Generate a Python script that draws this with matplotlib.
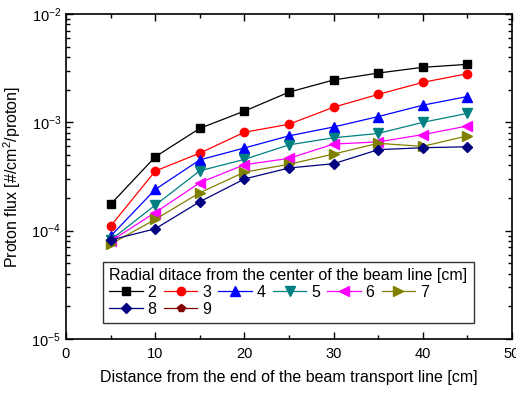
import numpy as np
import matplotlib
matplotlib.use("Agg")
import matplotlib.pyplot as plt
from matplotlib.ticker import LogLocator, MultipleLocator, NullFormatter

plt.rcParams['font.family'] = ['Liberation Sans', 'DejaVu Sans']
plt.rcParams['mathtext.fontset'] = 'custom'
plt.rcParams['mathtext.rm'] = 'Liberation Sans'

# Distance from the end of the beam transport line [cm]
distance = [5, 10, 15, 20, 25, 30, 35, 40, 45]

# Radial distance labels [cm]
radii = ["2", "3", "4", "5", "6", "7", "8", "9"]

flux_r2 = [1.75e-4, 4.8e-4, 8.8e-4, 1.27e-3, 1.9e-3, 2.46e-3, 2.85e-3, 3.22e-3, 3.43e-3]
flux_r3 = [1.1e-4, 3.55e-4, 5.2e-4, 8.1e-4, 9.6e-4, 1.38e-3, 1.81e-3, 2.34e-3, 2.81e-3]
flux_r4 = [8.9e-5, 2.4e-4, 4.5e-4, 5.8e-4, 7.5e-4, 9.06e-4, 1.13e-3, 1.44e-3, 1.73e-3]
flux_r5 = [8.2e-5, 1.72e-4, 3.57e-4, 4.55e-4, 6.2e-4, 7.2e-4, 7.9e-4, 1.0e-3, 1.21e-3]
flux_r6 = [8.0e-5, 1.47e-4, 2.77e-4, 4.06e-4, 4.65e-4, 6.3e-4, 6.6e-4, 7.7e-4, 9.25e-4]
flux_r7 = [7.5e-5, 1.27e-4, 2.24e-4, 3.47e-4, 4.1e-4, 5.1e-4, 6.4e-4, 6.0e-4, 7.5e-4]
flux_r8 = [8.2e-5, 1.04e-4, 1.85e-4, 3.0e-4, 3.79e-4, 4.15e-4, 5.59e-4, 5.83e-4, 5.95e-4]
flux_r9 = []  # listed in the legend, no points drawn

series = [flux_r2, flux_r3, flux_r4, flux_r5, flux_r6, flux_r7, flux_r8, flux_r9]
colors = ["black", "red", "blue", "#008080", "magenta", "#808000", "#000080", "#800000"]
markers = ["s", "o", "^", "v", "<", ">", "D", "p"]
msizes = [5.5, 6, 6.5, 6.5, 6.5, 6.5, 5, 6]

fig = plt.figure(figsize=(5.16, 3.94), dpi=100)
ax = fig.add_axes([66 / 516, 1 - 339 / 394, 446 / 516, 325 / 394])

lines = []
for lab, ys, c, m, ms in zip(radii, series, colors, markers, msizes):
    xs = distance[:len(ys)]
    ln, = ax.plot(xs, ys, marker=m, color=c, markersize=ms, linewidth=0.9,
                  markeredgecolor=c, label=lab)
    lines.append(ln)

ax.set_yscale("log")
ax.set_xlim(0, 50)
ax.set_ylim(1e-5, 1e-2)
ax.xaxis.set_major_locator(MultipleLocator(10))
ax.xaxis.set_minor_locator(MultipleLocator(5))
ax.yaxis.set_major_locator(LogLocator(base=10, numticks=10))
ax.yaxis.set_minor_locator(LogLocator(base=10, subs=np.arange(2, 10), numticks=20))
ax.yaxis.set_minor_formatter(NullFormatter())

ax.tick_params(which="both", direction="in", top=True, right=True, labelsize=10.5)
ax.tick_params(which="major", length=5, width=1)
ax.tick_params(which="minor", length=3, width=1)
ax.tick_params(axis="x", pad=6)
for sp in ax.spines.values():
    sp.set_linewidth(1.2)

ax.set_xlabel("Distance from the end of the beam transport line [cm]", fontsize=11.5, labelpad=6)
ax.set_ylabel("Proton flux [#/cm$^2$/proton]", fontsize=11.5, labelpad=6)

# legend fills column by column; reorder so rows read 2..7 then 8, 9
order = [0, 6, 1, 7, 2, 3, 4, 5]
leg = ax.legend([lines[i] for i in order], [radii[i] for i in order],
                title="Radial ditace from the center of the beam line [cm]",
                ncol=6, loc="upper left",
                bbox_to_anchor=(37 / 446, 77 / 325),
                fontsize=11.5, title_fontsize=11.5,
                frameon=True, fancybox=False, edgecolor="black",
                handlelength=2.1, handletextpad=0.3, columnspacing=0.45,
                labelspacing=0.1, borderpad=0.4, borderaxespad=0)
leg.get_frame().set_linewidth(1.0)
leg._legend_box.align = "left"

fig.savefig("out.png", dpi=100)
